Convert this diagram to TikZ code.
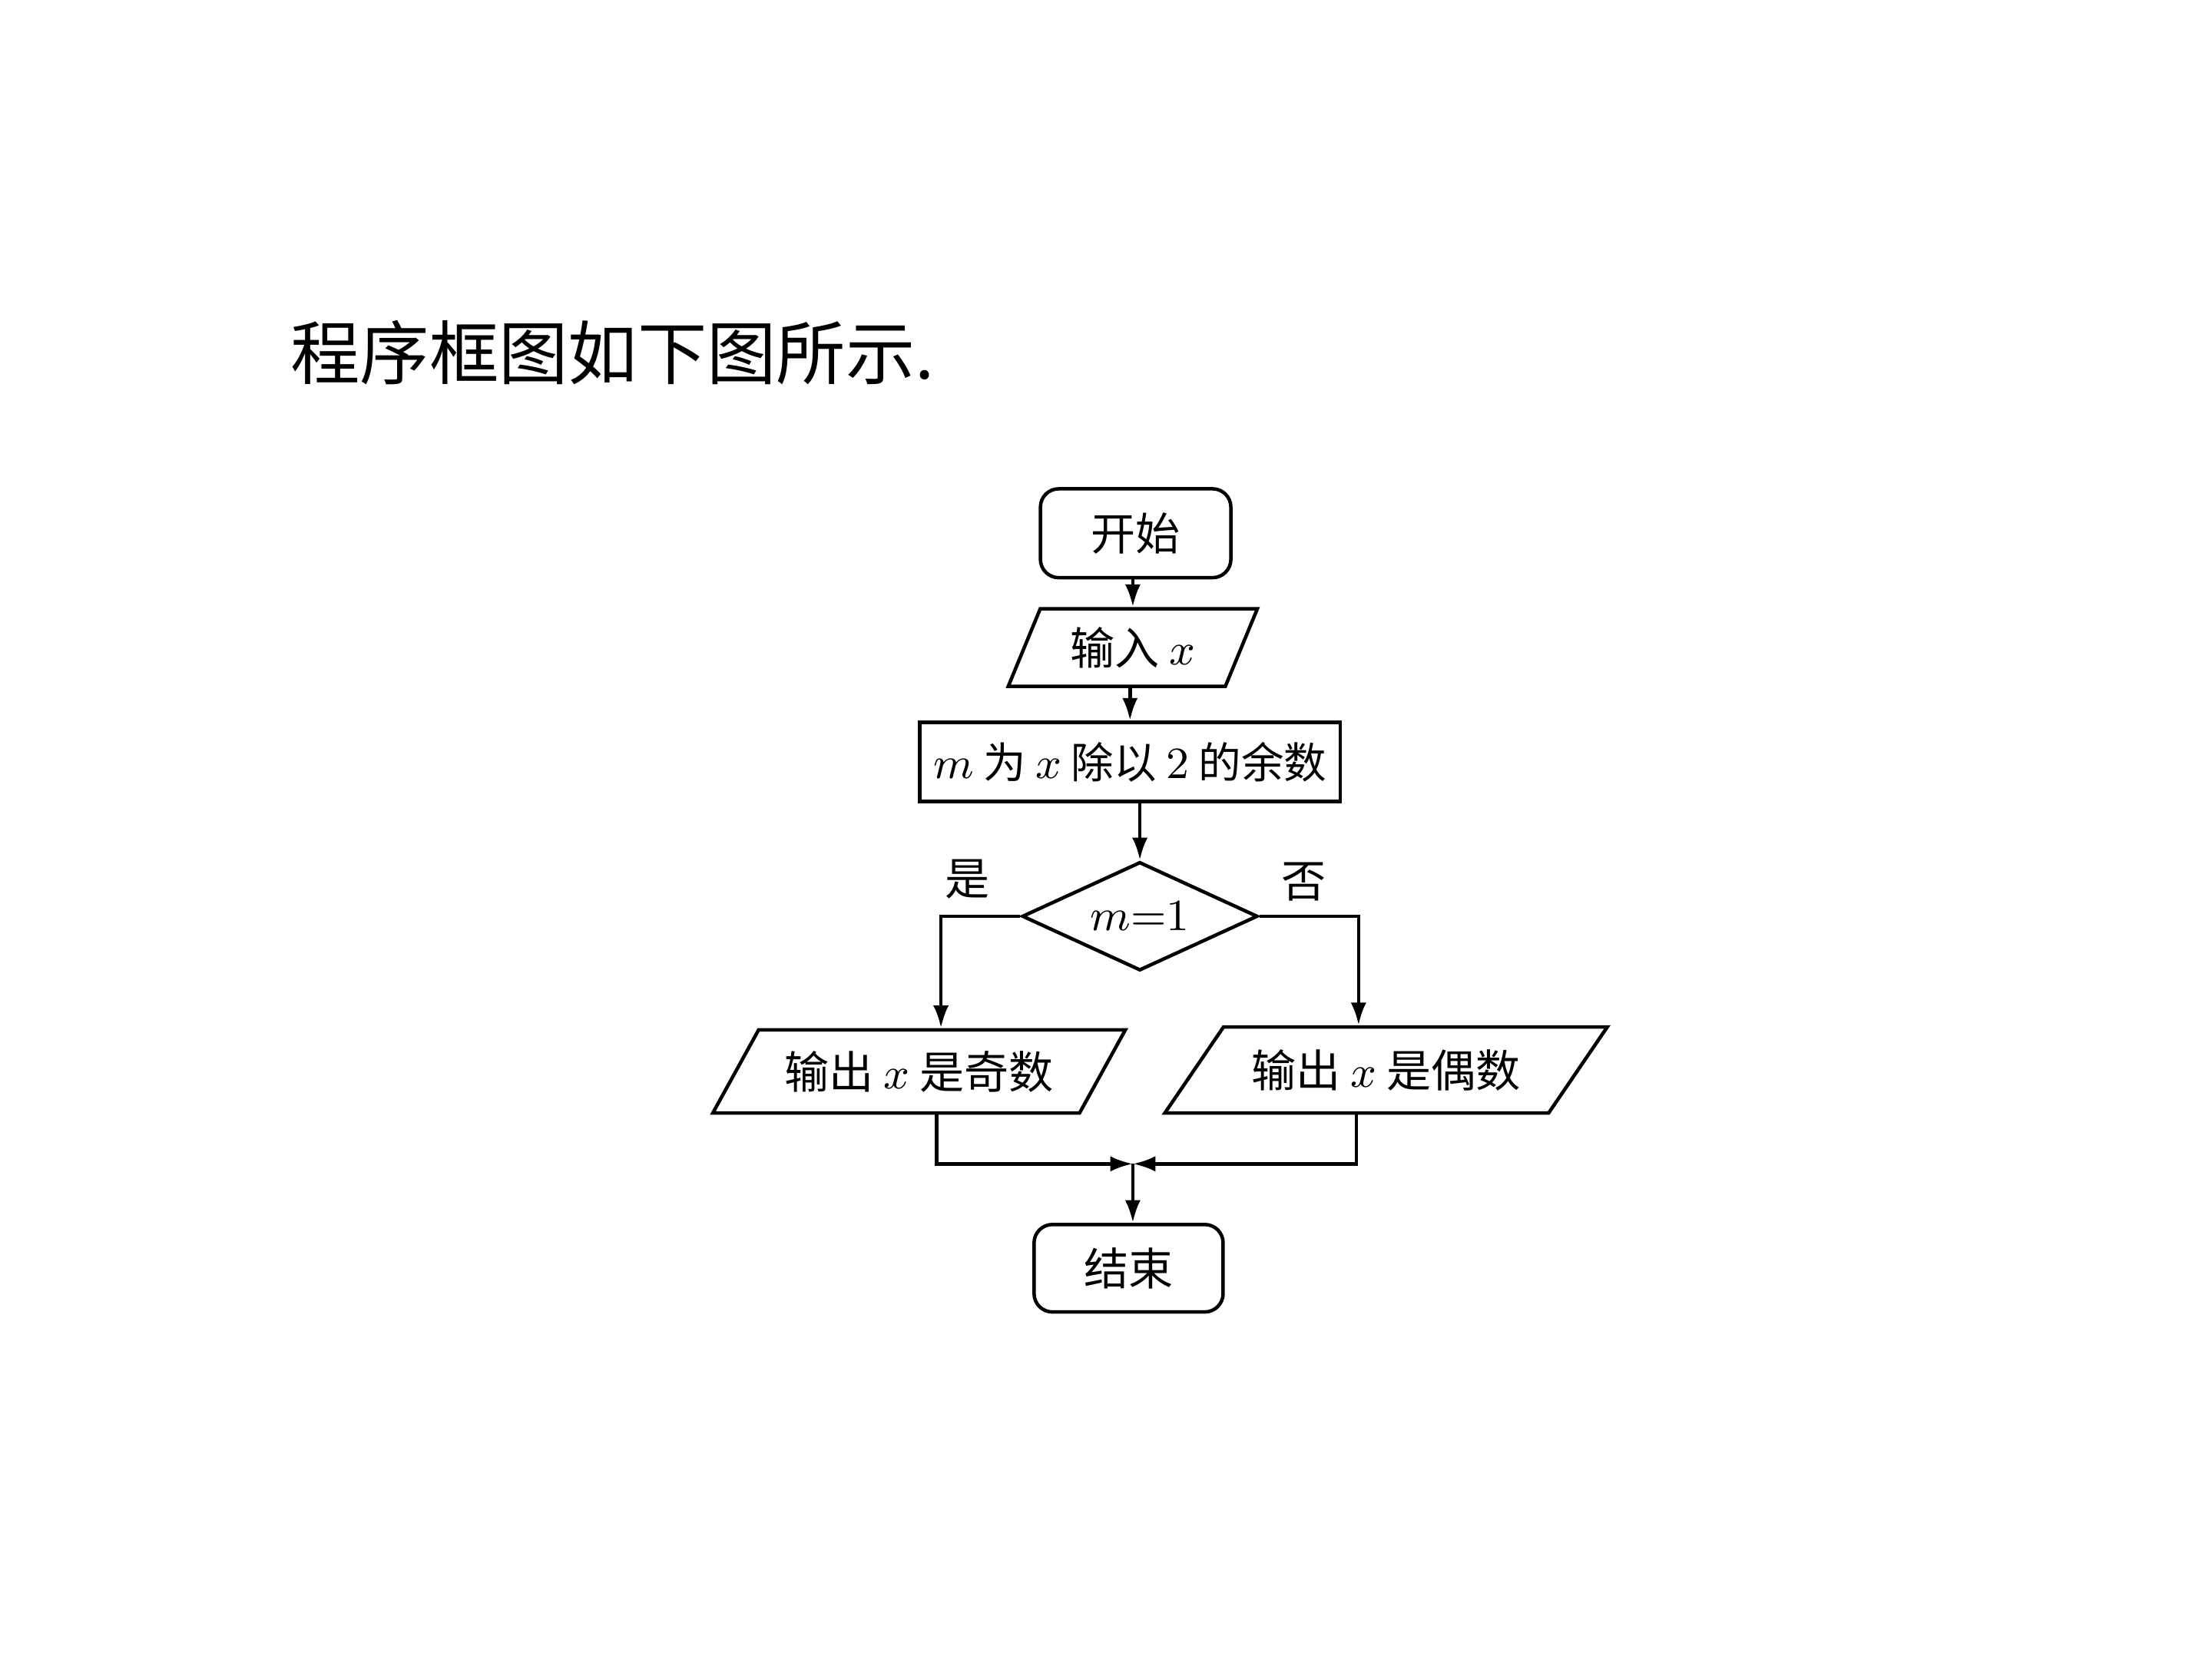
\documentclass[tikz,border=0pt]{standalone}
\usepackage{amsmath}
\usepackage{fontspec}
\newfontfamily\cjk{Noto Sans CJK SC}
\usepackage{tikz}
\usetikzlibrary{shapes.geometric, arrows.meta, positioning}

\begin{document}
\begin{tikzpicture}[
    line width=0.7pt,
    txt/.style={font=\cjk\fontsize{9}{11}\selectfont},
    terminal/.style={rectangle, rounded corners=1.3mm, draw, txt, minimum width=1.35cm, minimum height=0.63cm},
    io/.style={trapezium, draw, txt, trapezium stretches=true, inner sep=1pt},
    process/.style={rectangle, draw, font=\cjk\fontsize{8.6}{10}\selectfont, inner xsep=0.5pt, minimum width=2.98cm, minimum height=0.56cm},
    decision/.style={diamond, draw, txt, aspect=2.17, minimum width=1.67cm, minimum height=0.77cm, inner sep=0pt},
    arrow/.style={-{Latex[length=1.6mm,width=1.1mm]}}
]
\fill[white] (0,0) rectangle (15.68,-11.76);
\useasboundingbox (0,0) rectangle (15.68,-11.76);

\node[anchor=west, font=\cjk\fontsize{14}{16}\selectfont] (title) at (1.93,-2.50) {程序框图如下图所示.};

\node[terminal] (start) at (8.05,-3.78) {开始};
\node[io, trapezium left angle=65.4, trapezium right angle=114.6,
      minimum width=1.77cm, minimum height=0.55cm] (input) at (8.03,-4.59) {输入 $x$};
\node[process] (rem) at (8.01,-5.40) {$m$ 为 $x$ 除以 $2$ 的余数};
\node[decision] (test) at (8.08,-6.495) {$m{=}1$};
\node[io, trapezium left angle=52.1, trapezium right angle=127.9,
      minimum width=2.93cm, minimum height=0.59cm] (odd) at (6.515,-7.595) {输出 $x$ 是奇数};
\node[io, trapezium left angle=45.5, trapezium right angle=134.5,
      minimum width=3.15cm, minimum height=0.61cm] (even) at (9.825,-7.585) {输出 $x$ 是偶数};
\coordinate (join) at (8.03,-8.25);
\node[terminal, minimum width=1.34cm, minimum height=0.62cm] (stop) at (8.00,-8.99) {结束};

\node[txt] (yes) at (6.86,-6.23) {是};
\node[txt] (no) at (9.24,-6.25) {否};

\draw[arrow] (start.south -| input.north) -- (input.north);
\draw[arrow] (input.south -| rem.north) -- (rem.north);
\draw[arrow] (rem.south -| test.north) -- (test.north);
\draw[arrow] (test.west) -| ([xshift=1.55mm]odd.north);
\draw[arrow] (test.east) -| ([xshift=-1.95mm]even.north);
\draw[arrow] ([xshift=1.25mm]odd.south) |- (join);
\draw[arrow] ([xshift=-2.1mm]even.south) |- (join);
\draw[arrow] (join) -- (join |- stop.north);
\end{tikzpicture}
\end{document}
